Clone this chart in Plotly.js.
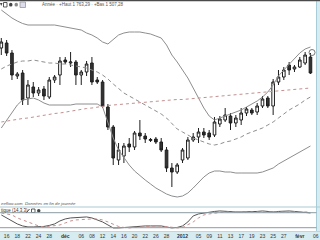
<!DOCTYPE html>
<html><head><meta charset="utf-8">
<script src="https://cdn.plot.ly/plotly-3.0.1.min.js"></script>
<style>html,body{margin:0;padding:0;background:#fff;}#chart{width:320px;height:240px;}</style>
</head><body><div id="chart"></div>
<script>
// trading-day index (15 Nov 2011 .. 3 Feb 2012)
const dayIdx = Array.from({length:59},(_,i)=>i);
const openP  = [202,207,197,174,177,152,163,157,161,153, 170,175,190,187,188,175,178,187,170,168, 143,123,90,94,106,103,117,114,109.5,111, 108,100,82,78,90,92,110,113,118,117, 115,126,130,134,127,130,137,140,138,144, 152,144,168,173,185,181,183,187,193];
const highP  = [212,210,200,178,180,170,168,163,164,173, 175,193,193,198,190,180,189,193,173,170, 146,125,107,107,112,119,130,117,112,113, 112,103,87,87,102,113,117,122,122,120, 133,134,142,137,135,142,143,142,147,154, 154,171,180,183,188,185,193,198,197];
const lowP   = [195,194,170,171,145,145,153,154,150,151, 167,165,186,183,165,165,174,165,166,142, 120,85,85,87,98,100,110,107,108,106, 98,78,63,76,87,90,108,107,112,110, 113,123,128,120,123,125,134,135,135,142, 142,135,165,170,175,178,182,185,176];
const closeP = [208,197,175,176,150,165,157,160,154,170, 173,189,188,188,175,178,186,168,168,144, 123,92,100,104,103,117,114,111,110.5,108, 100,82,78,85,100,110,113,118,115,113, 128,131,135,127,132,137,141,137,144,151, 144,168,173,180,180,183,190,195,177];
const bbUpper = [240,236,232,229,226.5,225,225,225,225,225, 225,224,223,222,221,220,217,215,212,208, 206,211,215,217,218,218,218,217,216,214, 212,205,195,188,180,172,162,152,142,134, 130,132,134,136,138,140,143,146,149,153, 158,165,174,180,186,192,197,201,203];
const bbLower = [122,130,138,145,150,151,152,150,147,145, 145,145,145,145,146,146,146,146,146,143, 128,112,100,92,85,79,74,70,66,62, 59,56,54,53,54,57,62,68,73,77, 79,79,78,78,77,77,77,77,77,78, 80,82,86,89,92,95,98,101,104];
const bbMid = [181,184,186,188,189,189,190,189,188,187, 187,186,186,185,184,183,182,180,178,175, 171,166,161,157,154,151,148,145,142,139, 136,132,126,121,118,115,112,110,108,106, 105,106,108,109,111,113,116,118,120,122, 125,128,132,136,140,143,146,150,153];
const maLong = [128,129,130,130.5,131.5,132,133,134,135,135.5, 136.5,137,138,139,140,140.5,141.5,142,143,144, 144.5,145,145.5,146,146.5,147,147.5,148,148.5,149, 149.5,150,150,150.5,150.5,151,151,151.5,152,152.5, 153,153.5,154,154.5,155,155.5,156,156.5,157,157.5, 158,158.5,159,159.5,160,160.5,161,161.5,162];
const stochK = [71,59,47,35,27,23,23,23,25,29, 35,47,55,59,61,63,63,59,51,43, 31,19,19,21,21,23,25,27,27,27, 27,23,19,21,27,43,67,75,79,83, 85,87,85,83,83,83,83,83,85,87, 85,83,85,87,87,85,83,83,79];
const stochD = [79,75,71,59,51,43,35,27,23,25, 27,31,39,47,51,53,55,55,55,51, 43,35,25,21,19,21,23,25,27,27, 27,25,23,19,21,31,43,59,71,75, 79,81,83,83,83,83,83,83,83,84, 84,84,84,85,85,85,85,84,83];
const stochLevels = [80,20];
const lastMark = {x:[58.3], y:[197.5]};
const tickIdx  = [1,3,5,7,9,12,15,17,19,21,23,25,27,29,31,34,37,39,41,43,45,47,49,51,53,56,59];
const tickText = ['16','18','22','24','28','<b>déc</b>','06','08','12','14','16','20','22','26','28','<b>2012</b>','05','09','11','13','17','19','23','25','27','<b>févr</b>','06'];
const headerText = 'Année · +Haut 1 763,29 · +Bas 1 507,28';
const footerSrc = 'eeflow.com';
const footerNote = 'Données en fin de journée';
const stochLabel = 'tique (14,3,3)';

const W=320,H=240;
const px=p=>p/W, py=p=>1-p/H;
const FONT='Liberation Sans, Arial, sans-serif';

const traces = [
 {type:'scatter',mode:'lines',x:dayIdx,y:bbUpper,line:{color:'#8e8e8e',width:1},xaxis:'x',yaxis:'y',hoverinfo:'skip'},
 {type:'scatter',mode:'lines',x:dayIdx,y:bbLower,line:{color:'#8e8e8e',width:1},xaxis:'x',yaxis:'y',hoverinfo:'skip'},
 {type:'scatter',mode:'lines',x:dayIdx,y:bbMid,line:{color:'#8e8e8e',width:1,dash:'4px,3px'},xaxis:'x',yaxis:'y',hoverinfo:'skip'},
 {type:'scatter',mode:'lines',x:dayIdx,y:maLong,line:{color:'#c49090',width:1,dash:'dot'},xaxis:'x',yaxis:'y',hoverinfo:'skip'},
 {type:'candlestick',x:dayIdx,open:openP,high:highP,low:lowP,close:closeP,xaxis:'x',yaxis:'y',
  whiskerwidth:0,
  increasing:{line:{color:'#1e1e1e',width:1},fillcolor:'#ffffff'},
  decreasing:{line:{color:'#1e1e1e',width:1},fillcolor:'#333333'}},
 {type:'scatter',mode:'markers',x:lastMark.x,y:lastMark.y,marker:{symbol:'circle-open',size:6,color:'#777',line:{width:1}},xaxis:'x',yaxis:'y'},
 {type:'scatter',mode:'lines',x:dayIdx,y:stochK,line:{color:'#555',width:1},xaxis:'x',yaxis:'y2'},
 {type:'scatter',mode:'lines',x:dayIdx,y:stochD,line:{color:'#c49090',width:1,dash:'dot'},xaxis:'x',yaxis:'y2'}
];

const shapes = [
 {type:'rect',xref:'paper',yref:'paper',x0:0,x1:1,y0:0,y1:py(231.5),fillcolor:'#d6ecf1',line:{width:0},layer:'below'},
 {type:'rect',xref:'paper',yref:'paper',x0:px(316.5),x1:1,y0:py(231.5),y1:py(1.2),fillcolor:'#d6ecf1',line:{width:0},layer:'below'},
 {type:'line',xref:'paper',yref:'paper',x0:px(316.5),x1:px(316.5),y0:py(231.5),y1:py(1.2),line:{color:'#a9cdd8',width:1}},
 {type:'rect',xref:'paper',yref:'paper',x0:0,x1:1,y0:py(1.3),y1:1,fillcolor:'#4a4a4a',line:{width:0}},
 {type:'line',xref:'paper',yref:'paper',x0:0,x1:1,y0:py(207),y1:py(207),line:{color:'#a9c9d3',width:1.2}},
 {type:'line',xref:'paper',yref:'paper',x0:0,x1:1,y0:py(231.5),y1:py(231.5),line:{color:'#b9d8e0',width:1}},
 // header icons
 {type:'path',xref:'paper',yref:'paper',path:`M ${px(0)} ${py(3)} L ${px(2.5)} ${py(3)} L ${px(1.2)} ${py(6)} Z`,fillcolor:'#444',line:{width:0}},
 {type:'rect',xref:'paper',yref:'paper',x0:px(3.5),x1:px(7),y0:py(7),y1:py(2.5),fillcolor:'#fff',line:{color:'#333',width:0.8}},
 {type:'circle',xref:'paper',yref:'paper',x0:px(9),x1:px(12.5),y0:py(6.5),y1:py(2.8),fillcolor:'#444',line:{width:0}},
 {type:'circle',xref:'paper',yref:'paper',x0:px(14.5),x1:px(18),y0:py(6.5),y1:py(2.8),fillcolor:'#888',line:{width:0}},
 {type:'rect',xref:'paper',yref:'paper',x0:px(20),x1:px(25.5),y0:py(7.5),y1:py(2),fillcolor:'#dde',line:{color:'#999',width:0.8}},
 // stoch icons
 {type:'line',xref:'paper',yref:'paper',x0:px(26.5),x1:px(29.5),y0:py(212.5),y1:py(209),line:{color:'#444',width:1}},
 {type:'rect',xref:'paper',yref:'paper',x0:px(31.5),x1:px(35),y0:py(212.5),y1:py(209),fillcolor:'#fff',line:{color:'#333',width:0.8}},
 {type:'circle',xref:'paper',yref:'paper',x0:px(37),x1:px(40.5),y0:py(212.5),y1:py(209),fillcolor:'#444',line:{width:0}}
];
stochLevels.forEach(v=>shapes.push({type:'line',xref:'paper',yref:'y2',x0:0,x1:px(316.5),y0:v,y1:v,line:{color:'#8c9ca3',width:1}}));

const annotations = [
 {xref:'paper',yref:'paper',x:px(40),y:py(4.5),xanchor:'left',yanchor:'middle',text:headerText,showarrow:false,font:{size:4.5,color:'#555',family:FONT}},
 {xref:'paper',yref:'paper',x:px(-1),y:py(203.3),xanchor:'left',yanchor:'middle',text:footerSrc,showarrow:false,font:{size:4.3,color:'#555',family:FONT,style:'italic'}},
 {xref:'paper',yref:'paper',x:px(23),y:py(203.3),xanchor:'left',yanchor:'middle',text:footerNote,showarrow:false,font:{size:4.3,color:'#555',family:FONT,style:'italic'}},
 {xref:'paper',yref:'paper',x:px(-1),y:py(210.7),xanchor:'left',yanchor:'middle',text:stochLabel,showarrow:false,font:{size:4.5,color:'#333',family:FONT}}
];

const layout = {
 width:W,height:H,margin:{l:0,r:0,t:0,b:0,pad:0},
 paper_bgcolor:'#ffffff',plot_bgcolor:'rgba(0,0,0,0)',showlegend:false,
 boxgap:0.3,
 xaxis:{domain:[0,1],range:[-0.244,59.79],anchor:'y2',showgrid:false,zeroline:false,showline:false,ticks:'',
   tickmode:'array',tickvals:tickIdx,ticktext:tickText,tickfont:{size:5,color:'#333',family:FONT},
   rangeslider:{visible:false},fixedrange:true},
 yaxis:{domain:[py(207),py(1)],range:[43,249],visible:false,fixedrange:true},
 yaxis2:{domain:[py(231.5),py(207.5)],range:[4.8,100.8],visible:false,fixedrange:true},
 shapes:shapes,annotations:annotations
};
Plotly.newPlot('chart',traces,layout,{staticPlot:true,displayModeBar:false});
</script></body></html>
